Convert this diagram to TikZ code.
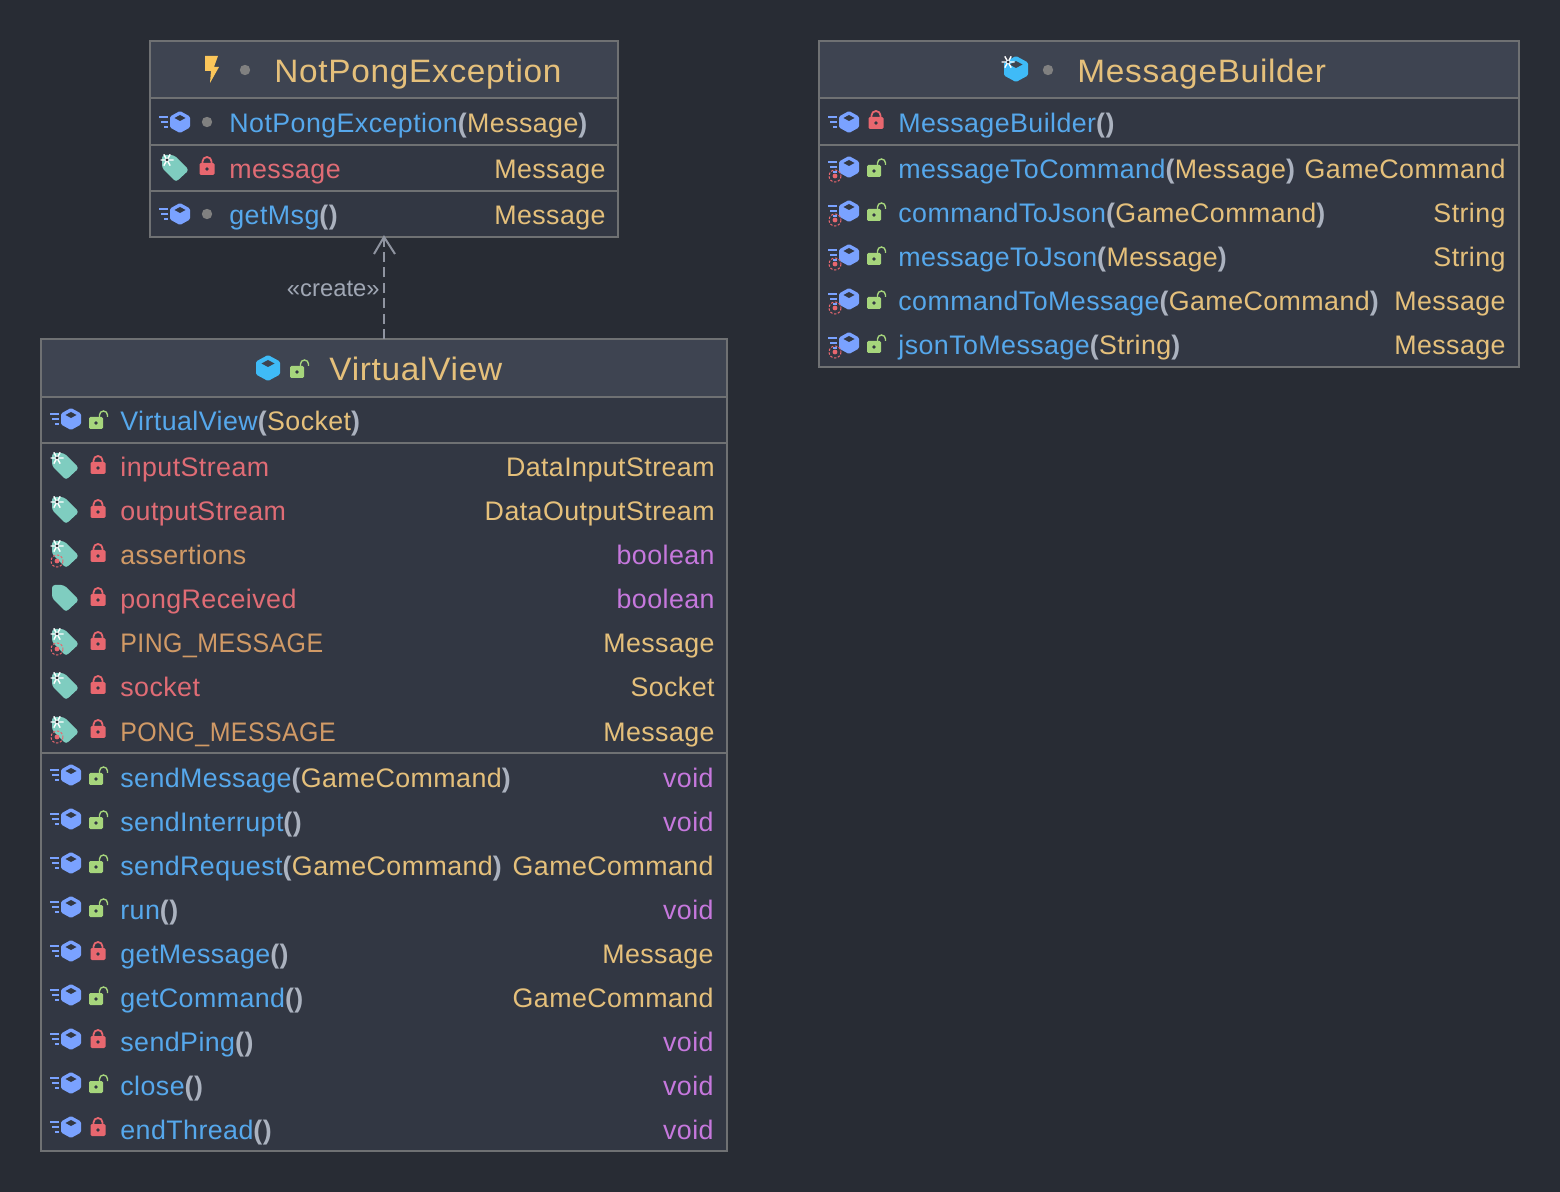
\documentclass[tikz,border=0pt]{standalone}
\usepackage{fontspec}
\setmainfont[LetterSpace=1.6]{Liberation Sans}
\newfontfamily\ttlfont[FakeStretch=1.03,LetterSpace=2.2]{Liberation Sans}
\newfontfamily\capfont[FakeStretch=0.93,LetterSpace=1.6]{Liberation Sans}
\newfontfamily\lblfont{Liberation Sans}
\usetikzlibrary{arrows.meta}
\definecolor{bgc}{HTML}{282C34}
\definecolor{rowc}{HTML}{323743}
\definecolor{headc}{HTML}{3E4451}
\definecolor{linec}{HTML}{6F7173}
\definecolor{cblue}{HTML}{56A8EC}
\definecolor{cyel}{HTML}{E5C07B}
\definecolor{cred}{HTML}{E06C75}
\definecolor{cpur}{HTML}{C678DD}
\definecolor{cora}{HTML}{D19A66}
\definecolor{cpar}{HTML}{ABB2BF}
\definecolor{conc}{HTML}{8F94A0}
\definecolor{icub}{HTML}{7AA2FF}
\definecolor{icyan}{HTML}{3FBBF7}
\definecolor{lockr}{HTML}{E8676F}
\definecolor{lockg}{HTML}{A6D57C}
\definecolor{tagc}{HTML}{7FCDC0}
\definecolor{boltc}{HTML}{FBC65A}
\definecolor{dotc}{HTML}{808080}
\newcommand{\fsz}{\fontsize{13.4}{16}\selectfont}
\newcommand{\tsz}{\ttlfont\fontsize{16.2}{19}\selectfont}
\newcommand{\nb}[1]{\textcolor{cblue}{#1}}
\newcommand{\ny}[1]{\textcolor{cyel}{#1}}
\newcommand{\nr}[1]{\textcolor{cred}{#1}}
\newcommand{\no}[1]{\textcolor{cora}{#1}}
\newcommand{\nc}[1]{\textcolor{cora}{\capfont #1}}
\newcommand{\np}[1]{\textcolor{cpur}{#1}}
\newcommand{\pr}[1]{\textcolor{cpar}{\textbf{#1}}}
\newcounter{tn}
\tikzset{
  x=0.5pt,y=-0.5pt,
  boxbody/.style={draw=linec,line width=0.6pt,fill=rowc,inner sep=0pt,outer sep=0pt},
  sepl/.style={draw=linec,line width=0.85pt},
  lbl/.style={anchor=base west,inner sep=0pt,font=\fsz},
  typ/.style={anchor=base east,inner sep=0pt,font=\fsz},
  ttl/.style={anchor=base west,inner sep=0pt,font=\tsz,text=cyel},
  conn/.style={draw=conc,line width=1pt,dash pattern=on 5pt off 2.7pt},
}
% icons
\newcommand{\cube}[3]{\begin{scope}[shift={(#1,#2)}]
  \fill[#3,rounded corners=0.7pt] (0,-11)--(10,-5.5)--(10,5.5)--(0,11)--(-10,5.5)--(-10,-5.5)--cycle;
  \fill[rowc] (0,-7)--(5.5,-4)--(0,-1)--(-5.5,-4)--cycle;
\end{scope}}
\newcommand{\cubet}[2]{\begin{scope}[shift={(#1,#2)}]
  \fill[icyan,rounded corners=0.7pt] (0,-13)--(12,-6.5)--(12,6.5)--(0,13)--(-12,6.5)--(-12,-6.5)--cycle;
  \fill[headc] (0,-8)--(6.5,-4.5)--(0,-1)--(-6.5,-4.5)--cycle;
\end{scope}}
\newcommand{\meth}[2]{\cube{#1}{#2}{icub}
  \begin{scope}[shift={(#1,#2)}]
  \draw[icub,line width=1.2pt] (-21,-5)--(-12.5,-5) (-19,0)--(-12.5,0) (-16,5)--(-12.5,5);
  \end{scope}}
\newcommand{\lockc}[2]{\begin{scope}[shift={(#1,#2)}]
  \draw[lockr,line width=0.9pt] (-4.5,-2) -- (-4.5,-4.5) arc[start angle=180,end angle=360,radius=4.5] -- (4.5,-2);
  \fill[lockr,rounded corners=0.7pt] (-7.5,-3) rectangle (7.5,9);
  \fill[rowc] (0,3) circle[radius=1.8];
\end{scope}}
\newcommand{\locko}[2]{\begin{scope}[shift={(#1,#2)}]
  \draw[lockg,line width=0.7pt] (1.5,-2) -- (1.5,-5) arc[start angle=180,end angle=360,radius=4] -- (9.5,-3);
  \fill[lockg,rounded corners=0.7pt] (-9,-3) rectangle (5,9);
  \fill[rowc] (-2,3) circle[radius=1.8];
\end{scope}}
\newcommand{\dotm}[2]{\fill[dotc] (#1,#2) circle[radius=5.2];}
\newcommand{\snow}[2]{\begin{scope}[shift={(#1,#2)}]
  \draw[white,line width=0.7pt] (-6.5,0)--(6.5,0) (-3.2,-5.6)--(3.2,5.6) (-3.2,5.6)--(3.2,-5.6);
  \fill[bgc] (0,0) circle[radius=1.5];
\end{scope}}
\newcommand{\tagb}{\fill[tagc,rounded corners=1.5pt] (-13,-13)--(-1,-13)--(14,2)--(1,14)--(-13,0)--cycle;}
\newcommand{\tagp}[2]{\begin{scope}[shift={(#1,#2)}]\tagb\end{scope}}
\newcommand{\tagi}[2]{\begin{scope}[shift={(#1,#2)}]\tagb\snow{-8}{-8}\end{scope}}
\newcommand{\badge}[2]{\begin{scope}[shift={(#1,#2)}]
  \draw[lockr,line width=0.5pt,dash pattern=on 1.2pt off 0.8pt] (0,0) circle[radius=6];
  \fill[lockr] (0,0) circle[radius=2.4];
\end{scope}}
\newcommand{\bolt}[2]{\begin{scope}[shift={(#1,#2)}]
  \fill[boltc] (-7,-14)--(6,-14)--(2,-3)--(7,-3)--(-2,13)--(-1,1)--(-7,1)--cycle;
\end{scope}}
% rows: x, y, text
\newcommand{\lrow}[3]{\stepcounter{tn}\node[lbl] (t\arabic{tn}) at (#1,#2+10) {#3};}
\newcommand{\rrow}[3]{\stepcounter{tn}\node[typ] (t\arabic{tn}) at (#1,#2+10) {#3};}
\newcommand{\boxat}[6]{% name x0 y0 x1 y1 yhead
  \pgfmathsetmacro{\bw}{(#4-#2)*0.5}\pgfmathsetmacro{\bh}{(#5-#3)*0.5}
  \node[boxbody,minimum width=\bw pt,minimum height=\bh pt] (#1) at ({(#2+#4)/2},{(#3+#5)/2}) {};
  \fill[headc] (#2,#3) rectangle (#4,#6);
  \draw[linec,line width=0.6pt] (#2,#3) rectangle (#4,#5);
  \draw[sepl] (#2,#6)--(#4,#6);}
\begin{document}
\begin{tikzpicture}
\useasboundingbox (0,0) rectangle (1560,1192);
\fill[bgc] (0,0) rectangle (1560,1192);

% NotPongException
\boxat{npe}{150}{41}{618}{237}{98}
\draw[sepl] (150,145)--(618,145) (150,191)--(618,191);
\bolt{212}{70} \dotm{245}{70}
\node[ttl] (npet) at (274,83) {NotPongException};
\meth{180}{122} \dotm{207}{122}
\lrow{229}{123}{\nb{NotPongException}\pr{(}\ny{Message}\pr{)}}
\tagi{175}{168} \lockc{207}{166}
\lrow{229}{169}{\nr{message}} \rrow{606}{169}{\ny{Message}}
\meth{180}{214} \dotm{207}{214}
\lrow{229}{215}{\nb{getMsg}\pr{()}} \rrow{606}{215}{\ny{Message}}

% MessageBuilder
\boxat{mb}{819}{41}{1519}{367}{98}
\draw[sepl] (819,145)--(1519,145);
\cubet{1016}{69} \snow{1008}{62} \dotm{1048}{70}
\node[ttl] (mbt) at (1077,83) {MessageBuilder};
\meth{849}{122} \lockc{876}{120}
\lrow{898}{123}{\nb{MessageBuilder}\pr{()}}
\foreach \yy in {169,213,257,301,345}{
  \meth{849}{\yy-2} \badge{835}{\yy+7} \locko{876}{\yy-1}
}
\lrow{898}{169}{\nb{messageToCommand}\pr{(}\ny{Message}\pr{)}} \rrow{1506}{169}{\ny{GameCommand}}
\lrow{898}{213}{\nb{commandToJson}\pr{(}\ny{GameCommand}\pr{)}} \rrow{1506}{213}{\ny{String}}
\lrow{898}{257}{\nb{messageToJson}\pr{(}\ny{Message}\pr{)}} \rrow{1506}{257}{\ny{String}}
\lrow{898}{301}{\nb{commandToMessage}\pr{(}\ny{GameCommand}\pr{)}} \rrow{1506}{301}{\ny{Message}}
\lrow{898}{345}{\nb{jsonToMessage}\pr{(}\ny{String}\pr{)}} \rrow{1506}{345}{\ny{Message}}

% VirtualView
\boxat{vv}{41}{339}{727}{1151}{397}
\draw[sepl] (41,443)--(727,443) (41,753)--(727,753);
\cubet{268}{368} \locko{299}{369}
\node[ttl] (vvt) at (329,381) {VirtualView};
\meth{71}{419} \locko{98}{420}
\lrow{120}{421}{\nb{VirtualView}\pr{(}\ny{Socket}\pr{)}}
% fields
\foreach \yy in {467,511,555,599,643,687,731}{
  \lockc{98}{\yy-2}
}
\tagi{65}{466} \lrow{120}{467}{\nr{inputStream}} \rrow{715}{467}{\ny{DataInputStream}}
\tagi{65}{510} \lrow{120}{511}{\nr{outputStream}} \rrow{715}{511}{\ny{DataOutputStream}}
\tagi{65}{554} \badge{57}{561} \lrow{120}{555}{\no{assertions}} \rrow{715}{555}{\np{boolean}}
\tagp{65}{598} \lrow{120}{599}{\nr{pongReceived}} \rrow{715}{599}{\np{boolean}}
\tagi{65}{642} \badge{57}{649} \lrow{120}{643}{\nc{PING\_MESSAGE}} \rrow{715}{643}{\ny{Message}}
\tagi{65}{686} \lrow{120}{687}{\nr{socket}} \rrow{715}{687}{\ny{Socket}}
\tagi{65}{730} \badge{57}{737} \lrow{120}{731}{\nc{PONG\_MESSAGE}} \rrow{715}{731}{\ny{Message}}
% methods
\foreach \yy in {777,821,865,909,953,997,1041,1085,1129}{
  \meth{71}{\yy-2}
}
\foreach \yy in {777,821,865,909,997,1085}{ \locko{98}{\yy-1} }
\foreach \yy in {953,1041,1129}{ \lockc{98}{\yy-2} }
\lrow{120}{777}{\nb{sendMessage}\pr{(}\ny{GameCommand}\pr{)}} \rrow{714}{777}{\np{void}}
\lrow{120}{821}{\nb{sendInterrupt}\pr{()}} \rrow{714}{821}{\np{void}}
\lrow{120}{865}{\nb{sendRequest}\pr{(}\ny{GameCommand}\pr{)}} \rrow{714}{865}{\ny{GameCommand}}
\lrow{120}{909}{\nb{run}\pr{()}} \rrow{714}{909}{\np{void}}
\lrow{120}{953}{\nb{getMessage}\pr{()}} \rrow{714}{953}{\ny{Message}}
\lrow{120}{997}{\nb{getCommand}\pr{()}} \rrow{714}{997}{\ny{GameCommand}}
\lrow{120}{1041}{\nb{sendPing}\pr{()}} \rrow{714}{1041}{\np{void}}
\lrow{120}{1085}{\nb{close}\pr{()}} \rrow{714}{1085}{\np{void}}
\lrow{120}{1129}{\nb{endThread}\pr{()}} \rrow{714}{1129}{\np{void}}

% connector
\coordinate (wl) at (374,254);
\coordinate (wr) at (395,254);
\draw[conn] (vv.north) -- (npe.south);
\draw[draw=conc,line width=1pt,line join=miter] (wl) -- (npe.south) -- (wr);
\node[anchor=base east,inner sep=0pt,font=\lblfont\fontsize{11.9}{15}\selectfont,text=cpar!92!bgc] (crt) at (380,297) {«create»};
\end{tikzpicture}
\end{document}
